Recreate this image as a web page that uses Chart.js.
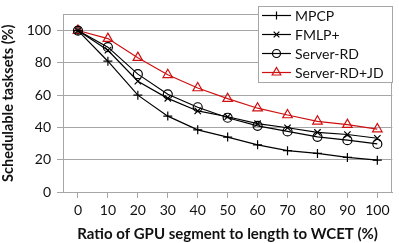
<!DOCTYPE html>
<html>
<head>
<meta charset="utf-8">
<script src="https://cdn.jsdelivr.net/npm/chart.js@4/dist/chart.umd.min.js"></script>
<style>
html,body{margin:0;padding:0;background:#fff;}
#wrap{width:399px;height:243px;position:relative;}
</style>
</head>
<body>
<div id="wrap"><canvas id="c" width="399" height="243"></canvas></div>
<script>
const categories = ['0','10','20','30','40','50','60','70','80','90','100'];
const mpcp      = [100, 81, 60, 47, 38.5, 34, 29.2, 25.6, 23.9, 21.4, 19.7];
const fmlp      = [100, 87.8, 68.6, 58, 50.2, 46.6, 42.3, 39.8, 36.9, 35.6, 33.3];
const serverRD  = [100, 89.7, 73, 60.5, 52.5, 46, 41, 37.5, 34.2, 32.1, 29.8];
const serverRDJD= [100, 95, 83.2, 72.6, 64.4, 57.8, 51.9, 47.7, 43.8, 41.7, 39];
const seriesNames = ['MPCP','FMLP+','Server-RD','Server-RD+JD'];
const yTicks = [0,20,40,60,80,100];

const FONT = 'Lato, "Open Sans", sans-serif';
const RED = '#d01010';
const GRID = '#a6a6a6';

const styles = [
  {color:'#000', point:'cross', r:4.5},
  {color:'#000', point:'crossRot', r:4.5},
  {color:'#000', point:'circle', r:4.5},
  {color:RED, point:'triangle', r:5.5}
];
const values = [mpcp, fmlp, serverRD, serverRDJD];

const datasets = seriesNames.map((n,i)=>({
  label:n,
  data:values[i],
  borderColor:styles[i].color,
  backgroundColor:'rgba(255,255,255,0)',
  borderWidth:1.2,
  pointStyle:styles[i].point,
  pointRadius:styles[i].r,
  pointBorderColor:styles[i].color,
  pointBackgroundColor:'rgba(255,255,255,0)',
  pointBorderWidth:1.2,
  tension:0,
  fill:false
}));

const frame = {
  id:'frame',
  afterDraw(chart){
    const {ctx, chartArea:a} = chart;
    ctx.save();
    ctx.strokeStyle = GRID; ctx.lineWidth = 1;
    ctx.strokeRect(Math.round(a.left)+0.5, Math.round(a.top)+0.5, Math.round(a.right-a.left)-1, Math.round(a.bottom-a.top));
    // legend
    const bx=258.5, by=6.5, bw=134, bh=76;
    ctx.fillStyle='#fff'; ctx.fillRect(bx,by,bw,bh);
    ctx.strokeStyle=GRID; ctx.strokeRect(bx,by,bw,bh);
    const rowsY=[15,34,53,72];
    ctx.textBaseline='middle'; ctx.textAlign='left';
    seriesNames.forEach((n,i)=>{
      const y=rowsY[i];
      ctx.strokeStyle=styles[i].color; ctx.lineWidth=1.2;
      ctx.beginPath(); ctx.moveTo(262,y+0.5); ctx.lineTo(291,y+0.5); ctx.stroke();
      ctx.fillStyle='rgba(255,255,255,0)';
      Chart.helpers.drawPoint(ctx,{pointStyle:styles[i].point, radius:styles[i].r-0.5, borderWidth:1.2, rotation:0}, 276.5, y+0.5);
      ctx.font = '14px '+FONT;
      ctx.fillStyle='#111';
      ctx.fillText(n,295,y+1);
    });
    ctx.restore();
  }
};

new Chart(document.getElementById('c'),{
  type:'line',
  data:{labels:categories, datasets},
  options:{
    responsive:false,
    animation:false,
    devicePixelRatio:1,
    layout:{padding:{top:1,right:2,left:0,bottom:0}},
    plugins:{legend:{display:false},tooltip:{enabled:false}},
    scales:{
      x:{
        offset:true,
        grid:{drawOnChartArea:false, drawTicks:true, tickLength:6, color:GRID, offset:false},
        border:{color:GRID},
        ticks:{font:{family:FONT,size:14}, color:'#111', padding:4, maxRotation:0, autoSkip:false},
        title:{display:true, text:'Ratio of GPU segment to length to WCET (%)', font:{family:FONT,size:15,weight:'bold'}, color:'#111', padding:{top:4,bottom:0}},
        afterFit(s){ s.height = 51; }
      },
      y:{
        min:0, max:110,
        afterBuildTicks(s){ s.ticks = yTicks.map(v=>({value:v})); },
        grid:{color:GRID, tickLength:6, drawTicks:true},
        border:{color:GRID},
        ticks:{font:{family:FONT,size:14}, color:'#111', padding:6},
        title:{display:true, text:'Schedulable tasksets (%)', font:{family:FONT,size:14.5,weight:'bold'}, color:'#111', padding:{top:0,bottom:4}},
        afterFit(s){ s.width = 63; }
      }
    }
  },
  plugins:[frame]
});
</script>
</body>
</html>
